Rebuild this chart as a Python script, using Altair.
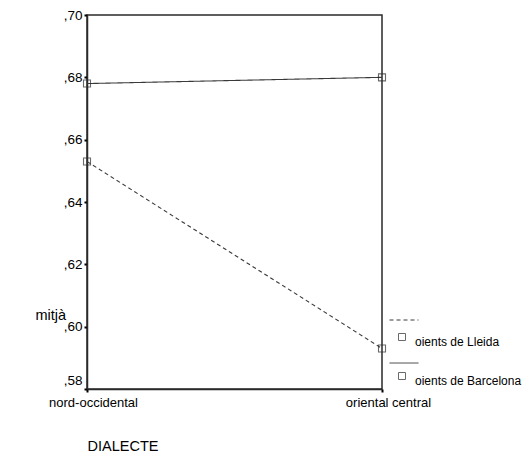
import altair as alt
import pandas as pd

dialectes = ["nord-occidental", "oriental central"]
grups = ["oients de Lleida", "oients de Barcelona"]
estils = ["discontinua", "continua"]
lleida = [0.653, 0.593]
barcelona = [0.678, 0.680]
y_ticks = [0.58, 0.60, 0.62, 0.64, 0.66, 0.68, 0.70]

rows = []
for g, e, vals in zip(grups, estils, [lleida, barcelona]):
    for d, v in zip(dialectes, vals):
        rows.append({"dialecte": d, "grup": g, "estil": e, "mitja": v})
df = pd.DataFrame(rows)

FONT = "Liberation Sans"
INK = "#2a2a2a"

x = alt.X(
    "dialecte:N",
    scale=alt.Scale(type="point", padding=0, domain=dialectes),
    axis=alt.Axis(
        title="DIALECTE", titleX=0, titleY=57, titleAlign="left", titleBaseline="middle",
        titleFontSize=14.5, titleFontWeight="normal", titleColor="black", titleFont=FONT,
        labelAngle=0, labelFontSize=13, labelFont=FONT, labelColor="black",
        labelPadding=4, labelOffset=6,
        tickSize=3, tickWidth=2, tickColor="black",
        domainColor=INK, domainWidth=1.5, grid=False,
    ),
)
y = alt.Y(
    "mitja:Q",
    scale=alt.Scale(domain=[0.58, 0.70], nice=False, zero=False),
    axis=alt.Axis(
        values=y_ticks,
        labelExpr="replace(format(datum.value, '.2f'), '0.', ',')",
        labelOffset=alt.ExprRef("datum.value < 0.585 ? -9 : 0"),
        title="mitjà", titleAngle=0, titleX=-52, titleY=300, titleAlign="left",
        titleBaseline="middle", titleFontSize=14.5, titleFontWeight="normal",
        titleColor="black", titleFont=FONT,
        labelFontSize=13.5, labelFont=FONT, labelColor="black", labelPadding=2,
        tickSize=3, tickWidth=2, tickColor="black",
        domainColor=INK, domainWidth=1.5, grid=False,
    ),
)

base = alt.Chart(df)

lines = base.mark_line(strokeWidth=1.1, color="#3a3a3a").encode(
    x=x,
    y=y,
    strokeDash=alt.StrokeDash(
        "estil:N",
        scale=alt.Scale(domain=estils, range=[[4, 3], [1, 0]]),
        legend=alt.Legend(
            title=None, orient="none", legendX=302, legendY=290,
            symbolType="stroke", symbolSize=841, symbolStrokeWidth=1,
            symbolStrokeColor="#3a3a3a", labelExpr="''", labelFontSize=11,
            rowPadding=23,
        ),
    ),
    detail="grup:N",
)

points = base.mark_point(shape="square", filled=False, size=49, strokeWidth=1.1).encode(
    x=x,
    y=y,
    color=alt.Color(
        "grup:N",
        scale=alt.Scale(domain=grups, range=[INK, INK]),
        legend=alt.Legend(
            title=None, orient="none", legendX=309, legendY=316,
            symbolType="square", symbolSize=49, symbolStrokeWidth=1,
            symbolFillColor="transparent", symbolStrokeColor=INK,
            labelFontSize=12, labelFont=FONT, labelColor="black",
            labelOffset=7, labelBaseline="top", rowPadding=22,
        ),
    ),
)

chart = (
    alt.layer(lines, points)
    .properties(
        width=295,
        height=374,
        autosize=alt.AutoSizeParams(type="none"),
        padding={"left": 79, "top": 7, "right": 140, "bottom": 66},
        background="white",
    )
    .configure_view(stroke=INK, strokeWidth=1.5)
)

chart.save("out.html", embed_options={"renderer": "svg", "actions": False})
